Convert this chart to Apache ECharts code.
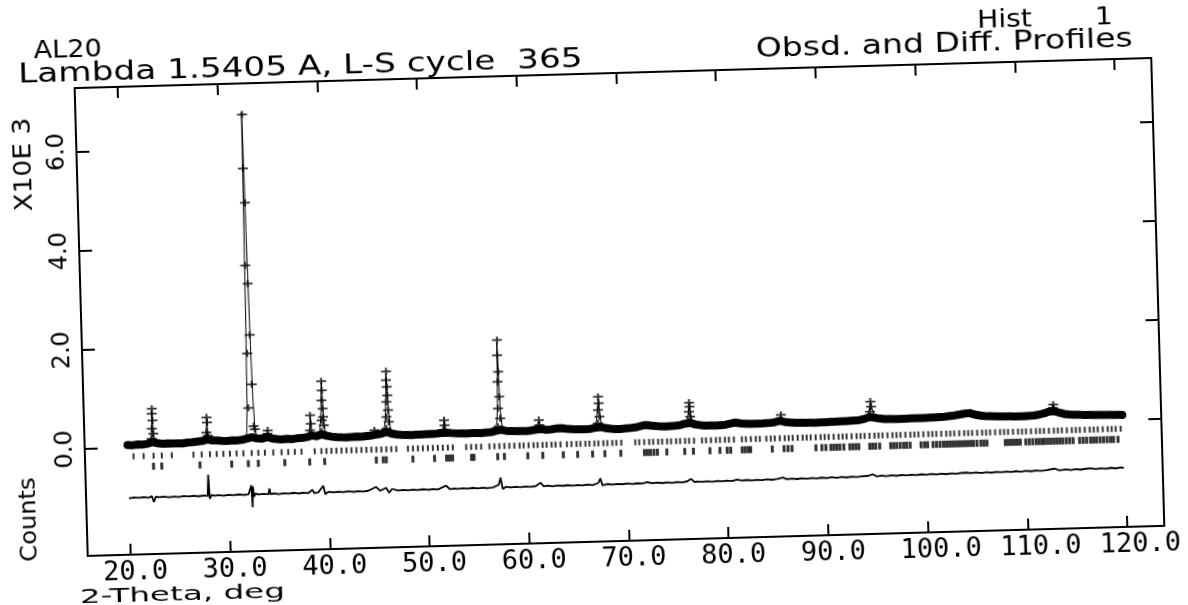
<!DOCTYPE html>
<html>
<head>
<meta charset="utf-8">
<script src="https://cdn.jsdelivr.net/npm/echarts@6/dist/echarts.min.js"></script>
<style>
  html, body { margin: 0; padding: 0; background: #fff; overflow: hidden; }
  #chart { width: 1188px; height: 605px; background: #fff;
           transform: rotate(-1.6deg); transform-origin: 618px 308px; }
</style>
</head>
<body>
<div id="chart"></div>
<script>
// ---- axis ticks -------------------------------------------------------
const thetaTicks = [20, 30, 40, 50, 60, 70, 80, 90, 100, 110, 120];
const countTicks = [0, 2000, 4000, 6000];

// ---- observed profile: background band of step points [2theta, counts]
const observedBand = [
  [20.0,52],[20.5,46],[21.0,58],[21.5,54],[22.0,66],[22.5,98],[23.0,72],[23.5,60],[24.0,66],[24.5,57],
  [25.0,61],[25.5,54],[26.0,68],[26.5,74],[27.0,84],[27.5,94],[28.0,120],[28.5,98],[29.0,92],[29.5,84],
  [30.0,80],[30.5,87],[31.0,83],[31.5,92],[32.0,118],[32.5,140],[33.0,112],[33.5,106],[34.0,138],[34.5,104],
  [35.0,90],[35.5,81],[36.0,87],[36.5,80],[37.0,92],[37.5,97],[38.0,112],[38.5,142],[39.0,124],[39.5,162],
  [40.0,126],[40.5,107],[41.0,95],[41.5,89],[42.0,86],[42.5,89],[43.0,92],[43.5,90],[44.0,100],[44.5,110],
  [45.0,126],[45.5,138],[46.0,172],[46.5,134],[47.0,114],[47.5,104],[48.0,98],[48.5,94],[49.0,99],[49.5,100],
  [50.0,103],[50.5,106],[51.0,111],[51.5,120],[52.0,126],[52.5,112],[53.0,104],[53.5,101],[54.0,96],[54.5,97],
  [55.0,98],[55.5,95],[56.0,102],[56.5,109],[57.0,132],[57.5,152],[58.0,124],[58.5,119],[59.0,115],[59.5,112],
  [60.0,111],[60.5,119],[61.0,134],[61.5,141],[62.0,124],[62.5,131],[63.0,146],[63.5,149],[64.0,134],[64.5,126],
  [65.0,117],[65.5,115],[66.0,112],[66.5,121],[67.0,141],[67.5,150],[68.0,124],[68.5,111],[69.0,101],[69.5,100],
  [70.0,107],[70.5,113],[71.0,123],[71.5,146],[72.0,166],[72.5,149],[73.0,139],[73.5,127],[74.0,126],[74.5,129],
  [75.0,133],[75.5,146],[76.0,171],[76.5,182],[77.0,147],[77.5,131],[78.0,121],[78.5,119],[79.0,115],[79.5,121],
  [80.0,126],[80.5,146],[81.0,164],[81.5,144],[82.0,136],[82.5,129],[83.0,127],[83.5,127],[84.0,133],[84.5,137],
  [85.0,151],[85.5,176],[86.0,144],[86.5,133],[87.0,125],[87.5,125],[88.0,119],[88.5,119],[89.0,115],[89.5,119],
  [90.0,120],[90.5,125],[91.0,125],[91.5,129],[92.0,130],[92.5,135],[93.0,137],[93.5,146],[94.0,169],[94.5,201],
  [95.0,184],[95.5,163],[96.0,151],[96.5,149],[97.0,145],[97.5,146],[98.0,145],[98.5,149],[99.0,150],[99.5,151],
  [100.0,150],[100.5,155],[101.0,155],[101.5,161],[102.0,165],[102.5,175],[103.0,184],[103.5,201],[104.0,214],[104.5,223],
  [105.0,189],[105.5,169],[106.0,155],[106.5,151],[107.0,145],[107.5,141],[108.0,135],[108.5,134],[109.0,130],[109.5,131],
  [110.0,130],[110.5,136],[111.0,140],[111.5,156],[112.0,177],[112.5,211],[113.0,214],[113.5,181],[114.0,151],[114.5,139],
  [115.0,130],[115.5,127],[116.0,120],[116.5,119],[117.0,115],[117.5,114],[118.0,110],[118.5,109],[119.0,105],[119.5,105],
  [119.8,101]
];

// ---- observed step points on the Bragg peaks [2theta, counts]
const observedPeaks = [
  [22.44,165],[22.48,367],[22.51,669],[22.54,770],[22.57,534],[22.62,266],
  [27.95,264],[27.99,566],[28.03,466],[28.08,200],
  [32.16,129],[32.22,734],[32.26,1832],[32.30,3608],[32.34,5565],[32.40,6654],
  [32.46,4871],[32.50,3236],[32.56,2203],[32.62,1208],[32.70,365],[32.80,299],
  [34.06,204],[34.10,270],
  [38.34,246],[38.38,548],[38.43,381],
  [39.50,208],[39.53,442],[39.56,845],[39.59,1230],[39.62,1046],[39.65,677],[39.68,510],[39.72,341],
  [44.80,212],
  [46.00,240],[46.03,474],[46.06,776],[46.09,1214],[46.12,1395],[46.15,1079],[46.18,911],[46.21,609],[46.25,373],
  [51.76,173],[51.80,375],[51.84,274],
  [57.20,212],[57.24,583],[57.27,1119],[57.30,1657],[57.33,1960],[57.36,1320],[57.39,816],[57.43,381],
  [61.30,325],[61.34,224],
  [67.22,226],[67.26,494],[67.30,762],[67.34,629],[67.38,359],
  [76.32,208],[76.36,409],[76.40,591],[76.44,510],[76.48,308],
  [85.58,292],
  [94.52,310],[94.58,512],[94.64,411],
  [112.86,280],[112.92,347],[112.98,212]
];

// ---- calculated profile [2theta, counts]
const calcProfile = [
  [20,55],[21,58],[22,62],[22.35,90],[22.45,300],[22.53,720],[22.6,420],[22.7,120],[23,70],[24,62],
  [25,58],[26,66],[27,80],[27.8,110],[27.92,280],[28.0,540],[28.08,260],[28.2,105],[29,90],[30,82],
  [31,85],[31.8,100],[32.0,250],[32.1,900],[32.2,2600],[32.3,5200],[32.36,6700],[32.42,5600],[32.47,4300],[32.52,3400],
  [32.6,2000],[32.7,900],[32.8,400],[32.95,160],[33.2,110],[33.9,115],[34.05,230],[34.12,250],[34.25,115],[35,88],
  [36,82],[37,90],[38,105],[38.3,250],[38.4,520],[38.5,200],[38.9,130],[39.3,180],[39.45,500],[39.55,1000],
  [39.6,1200],[39.66,900],[39.75,400],[39.9,150],[40.5,110],[41,92],[42,86],[43,90],[44,98],[44.6,115],
  [44.8,200],[44.95,120],[45.7,150],[45.9,400],[46.0,800],[46.1,1350],[46.17,1100],[46.25,600],[46.4,220],[46.8,130],
  [48,98],[49,96],[50,100],[51,108],[51.6,130],[51.8,360],[51.95,150],[52.5,112],[53,104],[54,97],
  [55,96],[56,100],[56.8,120],[57.1,300],[57.2,700],[57.3,1900],[57.38,1300],[57.45,600],[57.6,220],[58,130],
  [59,116],[60,110],[60.8,125],[61.3,300],[61.5,140],[62,125],[63,140],[64,135],[65,120],[66,112],
  [66.9,140],[67.1,300],[67.3,740],[67.4,500],[67.55,220],[68,125],[69,102],[70,106],[71,122],[72,155],
  [73,140],[74,126],[75,132],[76,170],[76.25,300],[76.4,580],[76.5,420],[76.7,200],[77,145],[78,122],
  [79,116],[80,126],[81,160],[82,137],[83,126],[84,132],[85,150],[85.6,270],[86,140],[87,126],
  [88,121],[89,116],[90,121],[91,126],[92,131],[93,137],[94,170],[94.4,300],[94.58,500],[94.7,380],
  [95,190],[96,150],[97,146],[98,146],[99,151],[100,151],[101,156],[102,166],[103,185],[104,215],
  [104.5,222],[105,185],[106,156],[107,146],[108,136],[109,131],[110,131],[111,141],[112,175],[112.7,280],
  [112.9,340],[113.1,260],[113.5,180],[114,150],[115,131],[116,121],[117,116],[118,111],[119,106],[119.8,101]
];

// ---- difference curve, obs - calc [2theta, counts]
const difference = [
  [20.0,-8],[20.5,6],[21.0,-4],[21.5,9],[22.0,-6],[22.3,22],[22.5,-95],[22.7,12],[23.0,-3],[23.5,7],
  [24.0,-9],[24.5,4],[25.0,-6],[25.5,8],[26.0,-2],[26.5,7],[27.0,-5],[27.5,6],[27.9,-2],[28.0,425],
  [28.1,-60],[28.3,14],[28.6,-4],[29.0,8],[29.5,-6],[30.0,9],[30.5,-3],[31.0,10],[31.5,-5],[32.0,8],
  [32.3,185],[32.38,-255],[32.45,160],[32.55,-45],[32.7,18],[33.0,-4],[33.5,9],[34.0,-2],[34.1,115],[34.2,0],
  [34.6,10],[35.0,-6],[35.5,8],[36.0,-3],[36.5,10],[37.0,-5],[37.5,7],[38.0,-2],[38.4,60],[38.6,-6],
  [39.0,8],[39.5,135],[39.7,-35],[40.0,12],[40.5,-4],[41.0,9],[41.5,-2],[42.0,11],[42.5,-5],[43.0,8],
  [43.5,-3],[44.0,10],[44.8,85],[45.2,4],[45.8,60],[46.1,-40],[46.4,35],[47.0,-2],[47.5,9],[48.0,-4],
  [48.5,7],[49.0,-1],[49.5,10],[50.0,-5],[50.5,8],[51.0,-2],[51.8,70],[52.2,-3],[52.7,9],[53.0,-4],
  [53.5,8],[54.0,-1],[54.5,10],[55.0,-3],[55.5,7],[56.0,-5],[56.5,9],[57.1,55],[57.3,200],[57.5,-30],
  [57.8,12],[58.3,-2],[58.8,9],[59.3,-4],[59.8,8],[60.3,-1],[60.8,10],[61.3,75],[61.6,2],[62.0,11],
  [62.5,-3],[63.0,12],[63.5,0],[64.0,10],[64.5,-4],[65.0,9],[65.5,-2],[66.0,11],[66.5,-1],[67.1,40],
  [67.3,130],[67.5,-15],[68.0,10],[68.5,-3],[69.0,9],[69.5,0],[70.0,12],[70.5,-2],[71.0,10],[71.5,2],
  [72.0,25],[72.5,4],[73.0,13],[73.5,0],[74.0,12],[74.5,-2],[75.0,11],[75.5,3],[76.0,20],[76.4,70],
  [76.7,5],[77.0,14],[77.5,1],[78.0,13],[78.5,-1],[79.0,12],[79.5,3],[80.0,14],[80.5,2],[81.0,28],
  [81.5,6],[82.0,15],[82.5,2],[83.0,14],[83.5,4],[84.0,16],[84.5,5],[85.0,18],[85.6,45],[86.0,8],
  [86.5,17],[87.0,5],[87.5,18],[88.0,6],[88.5,19],[89.0,7],[89.5,20],[90.0,8],[90.5,21],[91.0,9],
  [91.5,22],[92.0,10],[92.5,23],[93.0,11],[93.5,24],[94.2,30],[94.6,60],[95.0,14],[95.5,26],[96.0,13],
  [96.5,27],[97.0,15],[97.5,28],[98.0,16],[98.5,29],[99.0,17],[99.5,30],[100.0,18],[100.5,31],[101.0,19],
  [101.5,32],[102.0,20],[102.5,33],[103.0,22],[103.5,35],[104.0,40],[104.5,28],[105.0,36],[105.5,24],[106.0,37],
  [106.5,25],[107.0,38],[107.5,26],[108.0,39],[108.5,28],[109.0,40],[109.5,29],[110.0,41],[110.5,30],[111.0,42],
  [111.5,31],[112.0,44],[112.9,70],[113.3,34],[114.0,46],[114.5,33],[115.0,48],[115.5,35],[116.0,50],[116.5,56],
  [117.0,38],[117.5,52],[118.0,36],[118.5,55],[119.0,40],[119.5,58],[119.8,45]
];

// ---- reflection positions (2theta) for the two refined phases
const phase1Reflections = [
  20.57,21.58,22.58,23.41,24.41,26.58,27.41,28.24,28.91,29.58,30.24,30.91,31.59,32.42,33.09,33.75,
  34.59,35.42,36.09,36.75,37.42,38.75,39.42,39.92,40.42,40.92,41.43,41.93,42.43,42.93,43.43,43.93,
  44.43,44.93,45.43,45.93,46.43,46.93,48.1,48.6,49.1,49.6,50.1,50.6,51.1,51.6,52.1,52.6,
  53.94,54.44,54.94,55.44,56.27,56.77,57.27,57.77,58.27,58.77,59.3,59.7,60.2,60.7,61.1,61.6,
  62.0,62.5,62.9,63.4,64.05,64.5,65.0,65.4,65.9,66.3,66.8,67.2,67.7,68.1,68.6,69.0,69.5,
  70.9,71.3,71.8,72.3,72.7,73.2,73.6,74.1,74.5,75.0,75.4,75.9,76.3,76.8,77.6,78.0,78.5,79.0,
  79.4,79.9,80.3,80.8,81.6,82.0,82.5,83.0,83.4,84.05,84.5,84.9,85.4,85.9,86.3,86.7,87.2,87.7,
  88.1,88.5,89.0,89.5,89.9,90.3,90.8,91.3,91.7,92.1,92.6,93.1,93.5,93.9,94.4,94.9,95.3,95.7,
  96.2,96.7,97.1,97.5,98.0,98.5,98.9,99.3,99.8,100.3,100.7,101.1,101.6,102.1,102.5,102.9,103.4,
  103.9,104.3,104.7,105.2,105.7,106.1,106.5,107.0,107.5,107.9,108.3,108.8,109.3,109.7,110.1,110.6,
  111.1,111.5,111.9,112.4,112.9,113.3,113.7,114.2,114.7,115.1,115.5,116.0,116.5,116.9,117.3,117.8,
  118.3,118.7,119.1,119.6
];
const phase2Reflections = [
  22.55,23.38,27.21,30.39,32.06,33.06,35.72,38.22,39.72,44.9,45.6,45.9,48.57,50.74,51.95,52.25,52.55,
  54.45,54.7,57.08,57.75,60.1,61.6,63.66,65.1,66.6,67.83,69.43,71.8,72.1,72.4,72.75,73.1,74.04,75.84,
  76.71,78.37,79.37,80.1,80.45,81.6,81.9,82.2,82.45,84.62,85.8,86.2,86.6,89.0,89.6,90.0,90.5,90.8,
  91.1,91.4,91.8,92.4,92.7,93.0,93.3,94.4,94.7,95.0,95.4,96.5,96.8,97.1,97.45,97.8,98.1,98.45,
  99.55,99.9,100.2,100.75,101.1,101.45,101.8,102.1,102.4,102.7,103.0,103.3,103.6,103.9,104.2,104.5,
  104.8,105.15,105.55,105.85,106.15,108.0,108.3,108.6,108.9,109.2,109.5,110.05,110.4,110.75,111.1,
  111.4,111.7,111.95,112.25,112.55,112.85,113.15,113.45,113.75,114.1,114.45,114.8,115.45,115.8,116.15,
  116.55,116.85,117.15,117.5,117.85,118.2,118.55,118.85,119.3
];

// ---- plot layout constants
const X_MIN = 15.7, X_MAX = 123.7;
const Y_MIN = -2160, Y_MAX = 7280;
const DIFF_OFFSET = -1015;      // difference curve is drawn shifted below the pattern
const PHASE1_ROW = -178;        // vertical placement of the reflection marker rows
const PHASE2_ROW = -390;

const ink = '#000';
const axisLine = { show: true, onZero: false, lineStyle: { color: ink, width: 2 } };
const crossSymbol = 'path://M0,3H10V5H0Z M4,0H6V8H4Z';

const chart = echarts.init(document.getElementById('chart'));

chart.setOption({
  animation: false,
  backgroundColor: '#fff',
  grid: { left: 81, top: 73, width: 1077, height: 468, containLabel: false },
  xAxis: [
    {
      type: 'value', position: 'bottom', min: X_MIN, max: X_MAX,
      axisLine: axisLine,
      axisTick: { show: true, inside: true, length: 11, customValues: thetaTicks,
                  lineStyle: { color: ink, width: 2 } },
      axisLabel: { show: true, customValues: thetaTicks,
                   formatter: v => v.toFixed(1),
                   fontFamily: 'DejaVu Sans Mono', fontSize: 27, color: ink,
                   margin: 4, align: 'left', padding: [0, 0, 0, -28] },
      splitLine: { show: false }
    },
    {
      type: 'value', position: 'top', min: X_MIN, max: X_MAX,
      axisLine: axisLine,
      axisTick: { show: true, inside: true, length: 11, customValues: thetaTicks,
                  lineStyle: { color: ink, width: 2 } },
      axisLabel: { show: false },
      splitLine: { show: false }
    }
  ],
  yAxis: [
    {
      type: 'value', position: 'left', min: Y_MIN, max: Y_MAX,
      axisLine: axisLine,
      axisTick: { show: true, inside: true, length: 13, customValues: countTicks,
                  lineStyle: { color: ink, width: 2 } },
      axisLabel: { show: true, customValues: countTicks, rotate: 90,
                   formatter: v => (v / 1000).toFixed(1),
                   fontFamily: 'DejaVu Sans', fontSize: 24, color: ink, margin: 7 },
      splitLine: { show: false }
    },
    {
      type: 'value', position: 'right', min: Y_MIN, max: Y_MAX,
      axisLine: axisLine,
      axisTick: { show: true, inside: true, length: 13, customValues: countTicks,
                  lineStyle: { color: ink, width: 2 } },
      axisLabel: { show: false },
      splitLine: { show: false }
    }
  ],
  series: [
    {
      name: 'Obsd', type: 'line', data: observedBand, symbol: 'none', silent: true,
      lineStyle: { color: ink, width: 8, cap: 'round', join: 'round' }, z: 2
    },
    {
      name: 'Calc', type: 'line', data: calcProfile, symbol: 'none', silent: true,
      lineStyle: { color: ink, width: 1 }, z: 3
    },
    {
      name: 'Obsd peaks', type: 'scatter', data: observedPeaks, silent: true,
      symbol: crossSymbol, symbolSize: [10, 7], itemStyle: { color: ink }, z: 4
    },
    {
      name: 'Phase 1', type: 'scatter', silent: true,
      data: phase1Reflections.map(t => [t, PHASE1_ROW]),
      symbol: 'rect', symbolSize: [2, 6], itemStyle: { color: ink }, z: 2
    },
    {
      name: 'Phase 2', type: 'scatter', silent: true,
      data: phase2Reflections.map(t => [t, PHASE2_ROW]),
      symbol: 'rect', symbolSize: [3, 7], itemStyle: { color: ink }, z: 2
    },
    {
      name: 'Diff', type: 'line', silent: true, symbol: 'none',
      data: difference.map(p => [p[0], p[1] + DIFF_OFFSET]),
      lineStyle: { color: ink, width: 1.8 }, z: 2
    }
  ],
  graphic: [
    { type: 'text', x: 41, y: 35.5, scaleX: 1.13,
      style: { text: 'AL20', font: '24px "DejaVu Sans"', fill: ink, align: 'left', verticalAlign: 'middle' } },
    { type: 'text', x: 25, y: 59, scaleX: 1.27,
      style: { text: 'Lambda 1.5405 A, L-S cycle  365', font: '27px "DejaVu Sans"', fill: ink,
               align: 'left', verticalAlign: 'middle' } },
    { type: 'text', x: 985, y: 31, scaleX: 1.13,
      style: { text: 'Hist       1', font: '25px "DejaVu Sans"', fill: ink, align: 'left', verticalAlign: 'middle' } },
    { type: 'text', x: 763, y: 54.5, scaleX: 1.27,
      style: { text: 'Obsd. and Diff. Profiles', font: '26px "DejaVu Sans"', fill: ink,
               align: 'left', verticalAlign: 'middle' } },
    { type: 'text', x: 29, y: 148, rotation: Math.PI / 2, scaleX: 1.1,
      style: { text: 'X10E 3', font: '24px "DejaVu Sans"', fill: ink, align: 'center', verticalAlign: 'middle' } },
    { type: 'text', x: 24, y: 503, rotation: Math.PI / 2, scaleX: 1.05,
      style: { text: 'Counts', font: '23px "DejaVu Sans"', fill: ink, align: 'center', verticalAlign: 'middle' } },
    { type: 'text', x: 72, y: 583, scaleX: 1.63,
      style: { text: '2-Theta, deg', font: '20px "DejaVu Sans"', fill: ink, align: 'left', verticalAlign: 'middle' } }
  ]
});
</script>
</body>
</html>
